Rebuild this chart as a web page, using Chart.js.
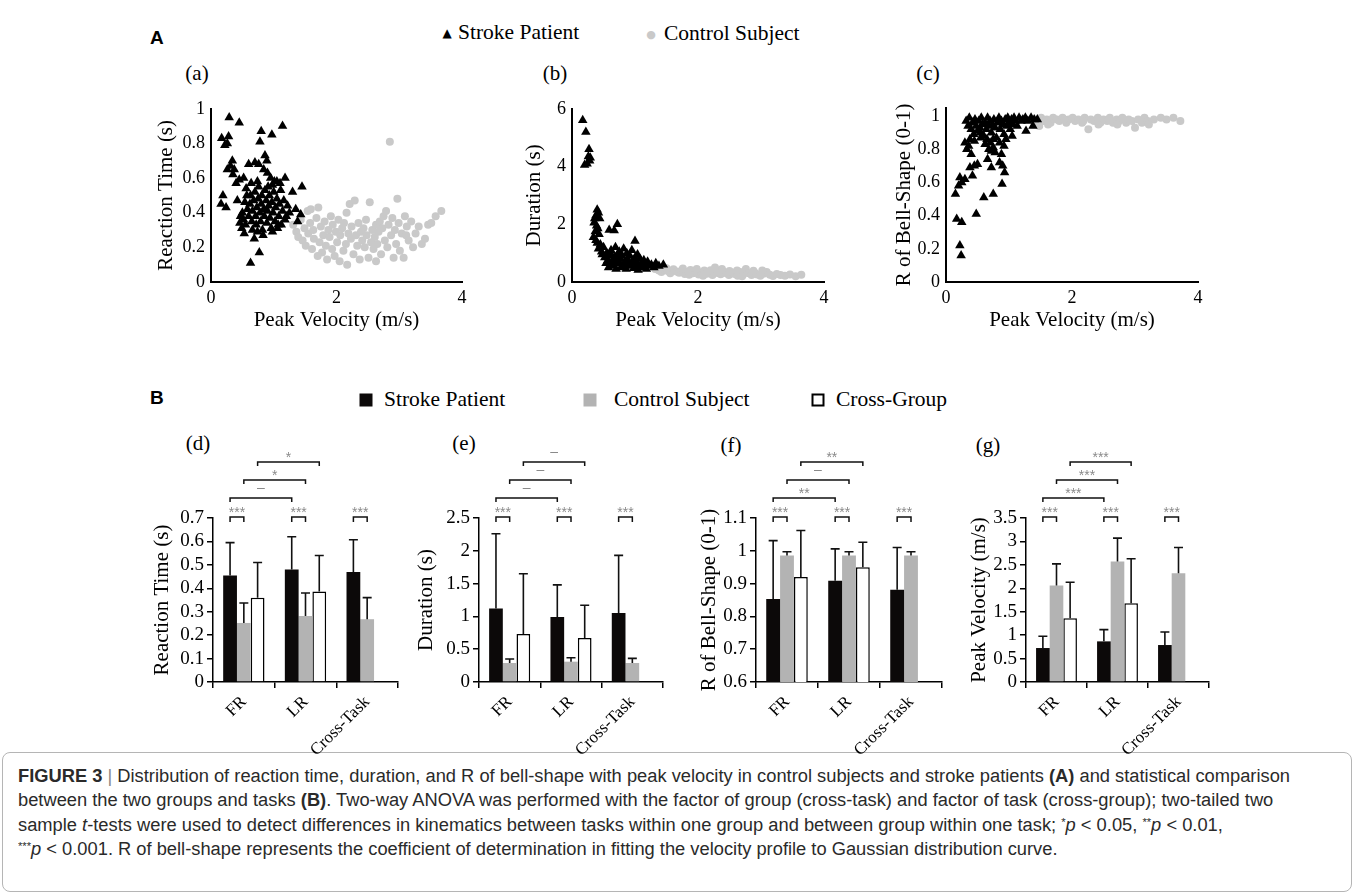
<!DOCTYPE html>
<html lang="en">
<head>
<meta charset="UTF-8">
<title>Figure 3</title>
<script src="https://cdn.jsdelivr.net/npm/chart.js"></script>
<style>
  body { margin: 0; width: 1358px; height: 895px; background: #fff; position: relative; overflow: hidden;
         font-family: "Liberation Serif", "Times New Roman", serif; color: #000; }
  .plot { position: absolute; }
  .t { position: absolute; white-space: nowrap; font-size: 21px; line-height: 1; transform: translate(0, -50%); }
  .c { transform: translate(-50%, -50%); }
  .big { font-family: "Liberation Sans", Arial, sans-serif; font-weight: bold; font-size: 19px; }
  .sq { position: absolute; width: 13px; height: 13px; transform: translate(-50%, -50%); box-sizing: border-box; }
  #capbox { position: absolute; left: 2px; top: 752px; width: 1350px; height: 140px; box-sizing: border-box;
            border: 1px solid #b5b5b5; border-radius: 8px; }
  #caption { position: absolute; left: 18px; top: 764px; transform-origin: 0 0;
             font-family: "Liberation Sans", Arial, sans-serif; font-size: 18px; line-height: 24.3px; color: #2a2a2a; }
  #caption div { width: max-content; white-space: nowrap; }
  #caption sup { font-size: 11px; vertical-align: 5px; line-height: 0; }
</style>
</head>
<body>
  <span class="t big" style="left:150px; top:37px;">A</span>
  <span class="t c" style="left:447px; top:33px; font-family:'DejaVu Sans'; font-size:12px;">&#9650;</span>
  <span class="t" style="left:458px; top:33px; font-size:21.5px;">Stroke Patient</span>
  <span class="t c" style="left:651px; top:34px; font-family:'DejaVu Sans'; font-size:11px; color:#c9c9c9;">&#9679;</span>
  <span class="t" style="left:664px; top:34px; font-size:21.5px;">Control Subject</span>
  <span class="t c" style="left:197px; top:73px;">(a)</span>
  <span class="t c" style="left:555px; top:73px;">(b)</span>
  <span class="t c" style="left:928px; top:73px;">(c)</span>

  <span class="t big" style="left:150px; top:397px;">B</span>
  <div class="sq" style="left:366px; top:400px; background:#0c0909;"></div>
  <span class="t" style="left:384px; top:400px; font-size:21.5px;">Stroke Patient</span>
  <div class="sq" style="left:590px; top:400px; background:#b3b3b3;"></div>
  <span class="t" style="left:614px; top:400px; font-size:21.5px;">Control Subject</span>
  <div class="sq" style="left:818px; top:400px; border:2px solid #000; background:#fff;"></div>
  <span class="t" style="left:836px; top:400px; font-size:21.5px;">Cross-Group</span>
  <span class="t c" style="left:198px; top:443px;">(d)</span>
  <span class="t c" style="left:464px; top:443px;">(e)</span>
  <span class="t c" style="left:731px; top:445px;">(f)</span>
  <span class="t c" style="left:988px; top:445px;">(g)</span>

  <div id="capbox"></div>
  <div id="caption">
    <div id="l1"><b>FIGURE 3</b> <span style="color:#888">|</span> Distribution of reaction time, duration, and R of bell-shape with peak velocity in control subjects and stroke patients <b>(A)</b> and statistical comparison</div>
    <div>between the two groups and tasks <b>(B)</b>. Two-way ANOVA was performed with the factor of group (cross-task) and factor of task (cross-group); two-tailed two</div>
    <div>sample <i>t</i>-tests were used to detect differences in kinematics between tasks within one group and between group within one task; <sup>*</sup><i>p</i> &lt; 0.05, <sup>**</sup><i>p</i> &lt; 0.01,</div>
    <div><sup>***</sup><i>p</i> &lt; 0.001. R of bell-shape represents the coefficient of determination in fitting the velocity profile to Gaussian distribution curve.</div>
  </div>

<script>
    const serif = '"Liberation Serif", "Times New Roman", serif';
    Chart.defaults.font.family = serif;
    Chart.defaults.color = '#000';

    // ---- panel A: [peak velocity (m/s), value] per trial ----
    const strokeRT = [
        [0.29,0.95],[0.45,0.92],[1.14,0.90],[0.80,0.87],[0.97,0.85],[0.17,0.83],[0.28,0.84],[0.78,0.81],[0.22,0.79],[0.26,0.80],
        [0.86,0.73],[0.89,0.70],[0.34,0.70],[0.31,0.67],[0.60,0.68],[0.70,0.69],[0.76,0.68],[0.26,0.65],[0.37,0.65],[0.35,0.62],
        [0.45,0.59],[0.40,0.57],[0.52,0.60],[0.90,0.63],[0.95,0.60],[1.18,0.60],[0.84,0.65],[1.05,0.58],[1.10,0.57],[0.98,0.56],
        [0.19,0.50],[0.16,0.45],[0.24,0.43],[0.42,0.47],[1.30,0.52],[1.45,0.55],[1.35,0.42],[1.43,0.39],[1.38,0.35],[1.20,0.38],
        [0.50,0.40],[0.52,0.36],[0.55,0.33],[0.58,0.42],[0.60,0.38],[0.62,0.45],[0.63,0.50],[0.65,0.35],[0.66,0.41],[0.68,0.47],
        [0.70,0.52],[0.71,0.38],[0.72,0.33],[0.73,0.43],[0.75,0.48],[0.76,0.55],[0.78,0.40],[0.79,0.35],[0.80,0.45],[0.81,0.50],
        [0.82,0.30],[0.84,0.42],[0.85,0.38],[0.86,0.53],[0.88,0.47],[0.89,0.34],[0.90,0.41],[0.92,0.44],[0.93,0.50],[0.94,0.37],
        [0.96,0.31],[0.97,0.46],[0.99,0.40],[1.00,0.52],[1.02,0.35],[1.03,0.43],[1.05,0.48],[1.06,0.31],[1.08,0.38],[1.09,0.45],
        [1.11,0.53],[1.12,0.33],[1.14,0.41],[1.16,0.47],[1.18,0.36],[1.22,0.44],[1.25,0.40],[0.57,0.50],[0.54,0.46],[0.47,0.38],
        [0.53,0.28],[0.66,0.30],[0.74,0.29],[0.98,0.29],[1.07,0.33],[0.63,0.11],[0.77,0.17],[0.69,0.25],[0.83,0.27],[0.56,0.54],
        [0.64,0.57],[0.74,0.58],[0.91,0.55],[1.01,0.58],[0.46,0.34],[0.49,0.31]
    ];
    const controlRT = [
        [1.31,0.33],[1.36,0.29],[1.39,0.26],[1.43,0.36],[1.46,0.24],[1.49,0.31],[1.51,0.21],[1.54,0.41],[1.55,0.28],[1.58,0.34],
        [1.61,0.19],[1.63,0.30],[1.64,0.25],[1.68,0.37],[1.71,0.43],[1.73,0.23],[1.75,0.32],[1.77,0.17],[1.79,0.27],[1.81,0.35],
        [1.83,0.21],[1.85,0.13],[1.87,0.30],[1.89,0.26],[1.91,0.38],[1.93,0.19],[1.94,0.33],[1.97,0.15],[1.99,0.29],[2.01,0.23],
        [2.03,0.36],[2.05,0.12],[2.06,0.27],[2.09,0.31],[2.11,0.18],[2.12,0.34],[2.15,0.22],[2.17,0.10],[2.19,0.28],[2.21,0.45],
        [2.23,0.25],[2.24,0.32],[2.27,0.16],[2.29,0.47],[2.31,0.27],[2.33,0.21],[2.35,0.34],[2.37,0.13],[2.39,0.29],[2.41,0.24],
        [2.43,0.31],[2.45,0.20],[2.47,0.36],[2.48,0.27],[2.51,0.14],[2.53,0.46],[2.55,0.23],[2.57,0.30],[2.59,0.19],[2.61,0.26],
        [2.63,0.33],[2.65,0.22],[2.67,0.29],[2.69,0.35],[2.71,0.16],[2.73,0.31],[2.75,0.38],[2.77,0.24],[2.79,0.41],[2.81,0.20],
        [2.83,0.33],[2.85,0.81],[2.87,0.27],[2.89,0.37],[2.91,0.14],[2.93,0.30],[2.95,0.22],[2.97,0.48],[2.99,0.34],[3.01,0.18],
        [3.04,0.28],[3.07,0.14],[3.09,0.38],[3.12,0.32],[3.15,0.24],[3.19,0.35],[3.22,0.20],[3.26,0.28],[3.31,0.32],[3.36,0.22],
        [3.41,0.25],[3.46,0.33],[3.51,0.34],[3.58,0.38],[3.67,0.41],[1.59,0.42],[2.16,0.40],[2.63,0.12],[1.70,0.15],[3.11,0.27]
    ];
    const strokeDur = [
        [0.17,5.6],[0.22,5.2],[0.27,4.6],[0.26,4.35],[0.28,4.2],[0.20,4.05],[0.24,4.1],[0.29,4.3],
        [0.40,2.5],[0.42,2.4],[0.38,2.3],[0.36,2.2],[0.44,2.2],[0.35,2.05],[0.39,1.95],[0.41,1.85],[0.37,1.75],[0.43,1.65],
        [0.34,1.55],[0.38,1.45],[0.40,1.35],[0.45,1.3],[0.42,1.15],[0.47,1.05],[0.50,1.2],[0.72,2.0],[0.59,1.8],[0.67,1.78],[1.00,1.42],
        [0.48,0.95],[0.52,0.85],[0.55,1.0],[0.57,0.75],[0.60,0.9],[0.62,1.1],[0.64,0.7],[0.65,0.55],[0.67,0.85],[0.69,1.2],
        [0.70,0.45],[0.72,0.95],[0.74,0.65],[0.75,1.05],[0.77,0.8],[0.79,0.55],[0.80,0.9],[0.82,1.15],[0.84,0.7],[0.85,0.6],
        [0.87,1.0],[0.88,0.8],[0.90,0.65],[0.92,0.9],[0.94,0.55],[0.95,1.1],[0.97,0.75],[0.99,0.6],[1.00,0.85],[1.02,0.7],
        [1.04,0.95],[1.06,0.55],[1.08,0.8],[1.10,0.65],[1.12,0.5],[1.14,0.75],[1.16,0.6],[1.18,0.45],[1.20,0.7],[1.23,0.55],
        [1.26,0.6],[1.30,0.5],[1.33,0.65],[1.38,0.55],[1.45,0.6],[0.58,0.5],[0.66,0.65],[0.78,0.5],[0.86,0.45],[0.98,0.48],
        [1.05,0.42],[0.62,0.95],[0.54,0.65],[0.73,0.75]
    ];
    const controlDur = [
        [1.32,0.45],[1.38,0.40],[1.42,0.35],[1.47,0.42],[1.52,0.38],[1.56,0.30],[1.61,0.44],[1.66,0.36],[1.70,0.32],[1.74,0.40],
        [1.79,0.28],[1.83,0.35],[1.88,0.42],[1.92,0.30],[1.96,0.37],[2.01,0.26],[2.05,0.33],[2.10,0.40],[2.14,0.29],[2.19,0.35],
        [2.23,0.24],[2.27,0.50],[2.31,0.31],[2.36,0.27],[2.40,0.36],[2.45,0.30],[2.49,0.24],[2.54,0.33],[2.58,0.28],[2.63,0.22],
        [2.67,0.35],[2.72,0.27],[2.76,0.45],[2.81,0.30],[2.85,0.24],[2.90,0.32],[2.94,0.26],[2.99,0.22],[3.04,0.29],[3.09,0.35],
        [3.14,0.25],[3.19,0.21],[3.25,0.28],[3.31,0.24],[3.38,0.22],[3.46,0.26],[3.55,0.20],[3.64,0.25],[1.50,0.48],[1.76,0.47],
        [2.08,0.22],[2.38,0.45],[2.62,0.40],[2.88,0.39],[3.02,0.40],[1.98,0.45],[2.20,0.41],[1.86,0.25],[2.50,0.38],[2.70,0.20]
    ];
    const strokeBell = [
        [0.32,0.97],[0.35,0.94],[0.37,0.99],[0.40,0.92],[0.42,0.96],[0.44,0.89],[0.46,0.98],[0.48,0.94],[0.50,0.91],[0.52,0.97],
        [0.54,0.93],[0.56,0.99],[0.58,0.95],[0.60,0.88],[0.62,0.96],[0.64,0.92],[0.66,0.99],[0.68,0.94],[0.70,0.97],[0.72,0.90],
        [0.74,0.95],[0.76,0.98],[0.78,0.93],[0.80,0.87],[0.82,0.96],[0.84,0.99],[0.86,0.92],[0.88,0.97],[0.90,0.95],[0.92,0.89],
        [0.94,0.98],[0.96,0.94],[0.98,0.99],[1.00,0.96],[1.02,0.92],[1.04,0.98],[1.06,0.95],[1.08,0.99],[1.10,0.97],[1.13,0.94],
        [1.16,0.99],[1.19,0.97],[1.22,0.98],[1.26,0.99],[1.30,0.97],[1.35,0.99],[1.40,0.98],[1.45,0.98],[0.38,0.86],[0.45,0.85],
        [0.55,0.87],[0.65,0.86],[0.70,0.84],[0.75,0.86],[0.85,0.84],[0.95,0.86],[1.05,0.88],[0.30,0.84],[0.33,0.80],[0.40,0.77],
        [0.36,0.82],[0.68,0.80],[0.72,0.79],[0.75,0.81],[0.78,0.78],[0.88,0.77],[0.92,0.82],[0.85,0.72],[0.90,0.70],[0.93,0.66],
        [0.72,0.69],[0.66,0.74],[0.50,0.71],[0.45,0.70],[0.38,0.69],[0.30,0.62],[0.22,0.63],[0.20,0.58],[0.25,0.60],[0.42,0.64],
        [0.89,0.59],[0.75,0.53],[0.60,0.51],[0.48,0.41],[0.15,0.53],[0.17,0.38],[0.25,0.36],[0.22,0.22],[0.24,0.16],[1.27,0.91],
        [1.38,0.94],[0.55,0.90],[0.62,0.83]
    ];
    const controlBell = [
        [1.40,0.98],[1.45,0.96],[1.51,0.99],[1.55,0.97],[1.60,0.98],[1.66,0.96],[1.70,0.99],[1.76,0.98],[1.80,0.97],[1.85,0.99],
        [1.91,0.96],[1.95,0.98],[2.01,0.99],[2.05,0.97],[2.10,0.98],[2.16,0.96],[2.20,0.99],[2.26,0.92],[2.30,0.98],[2.35,0.97],
        [2.41,0.99],[2.45,0.96],[2.50,0.98],[2.56,0.97],[2.60,0.99],[2.65,0.96],[2.71,0.98],[2.75,0.97],[2.80,0.99],[2.86,0.96],
        [2.90,0.98],[2.95,0.97],[3.00,0.93],[3.05,0.98],[3.11,0.96],[3.15,0.99],[3.20,0.97],[3.30,0.98],[3.41,0.99],[3.50,0.98],
        [3.61,0.99],[3.72,0.97],[1.48,0.94],[1.62,0.95],[2.42,0.95],[2.72,0.95],[3.22,0.95],[1.88,0.98],[2.18,0.97],[2.58,0.98]
    ];

    // ---- panel B: group means, SD and significance ----
    const tasks = ['FR', 'LR', 'Cross-Task'];
    const withinSig = ['***', '***', '***'];

    const rtStroke = [0.455, 0.48, 0.47];
    const rtStrokeSD = [0.14, 0.14, 0.137];
    const rtControl = [0.252, 0.282, 0.268];
    const rtControlSD = [0.085, 0.098, 0.092];
    const rtCross = [0.36, 0.386, null];
    const rtCrossSD = [0.15, 0.154, null];
    const rtSig = ['\u2013', '*', '*'];

    const durStroke = [1.12, 0.99, 1.05];
    const durStrokeSD = [1.14, 0.49, 0.88];
    const durControl = [0.29, 0.31, 0.29];
    const durControlSD = [0.06, 0.06, 0.07];
    const durCross = [0.73, 0.67, null];
    const durCrossSD = [0.92, 0.50, null];
    const durSig = ['\u2013', '\u2013', '\u2013'];

    const bellStroke = [0.853, 0.909, 0.881];
    const bellStrokeSD = [0.178, 0.097, 0.129];
    const bellControl = [0.986, 0.986, 0.986];
    const bellControlSD = [0.011, 0.011, 0.011];
    const bellCross = [0.92, 0.95, null];
    const bellCrossSD = [0.142, 0.076, null];
    const bellSig = ['**', '\u2013', '**'];

    const pvStroke = [0.725, 0.867, 0.789];
    const pvStrokeSD = [0.25, 0.25, 0.277];
    const pvControl = [2.06, 2.57, 2.32];
    const pvControlSD = [0.46, 0.50, 0.55];
    const pvCross = [1.36, 1.68, null];
    const pvCrossSD = [0.77, 0.95, null];
    const pvSig = ['***', '***', '***'];

    const fmt = v => String(+v.toFixed(2));

    // upward SD whiskers with a cap
    const errorBars = {
        id: 'errorBars',
        afterDatasetsDraw(chart) {
            const ctx = chart.ctx, ys = chart.scales.y;
            chart.data.datasets.forEach((ds, i) => {
                chart.getDatasetMeta(i).data.forEach((bar, j) => {
                    if (ds.data[j] == null || ds.sd[j] == null) return;
                    const yTop = ys.getPixelForValue(ds.data[j] + ds.sd[j]);
                    ctx.save();
                    ctx.strokeStyle = '#111';
                    ctx.lineWidth = 1.6;
                    ctx.beginPath();
                    ctx.moveTo(bar.x, bar.y);
                    ctx.lineTo(bar.x, yTop);
                    ctx.moveTo(bar.x - 4.5, yTop);
                    ctx.lineTo(bar.x + 4.5, yTop);
                    ctx.stroke();
                    ctx.restore();
                });
            });
        }
    };

    // significance brackets above the plot area
    const brackets = {
        id: 'brackets',
        afterDraw(chart, args, opts) {
            const ctx = chart.ctx, top = chart.chartArea.top;
            const cx = (d, j) => chart.getDatasetMeta(d).data[j].x;
            function br(x1, x2, y, leg, label) {
                ctx.beginPath();
                ctx.moveTo(x1, y + leg);
                ctx.lineTo(x1, y);
                ctx.lineTo(x2, y);
                ctx.lineTo(x2, y + leg);
                ctx.stroke();
                ctx.fillText(label, (x1 + x2) / 2, label === '\u2013' ? y - 3 : y + 3);
            }
            ctx.save();
            ctx.strokeStyle = '#111';
            ctx.lineWidth = 1.5;
            ctx.fillStyle = '#8a8a8a';
            ctx.font = '14px "Liberation Sans", Arial, sans-serif';
            ctx.textAlign = 'center';
            ctx.textBaseline = 'bottom';
            opts.within.forEach((lab, j) => br(cx(0, j), cx(1, j), top - 1, 5, lab));
            opts.across.forEach((lab, k) => br(cx(k, 0), cx(k, 1), top - 20 - 18 * k, 4, lab));
            ctx.restore();
        }
    };

    function place(box, config) {
        const div = document.createElement('div');
        div.className = 'plot';
        div.style.left = (box.x - box.yw) + 'px';
        div.style.top = (box.y - box.pt) + 'px';
        div.style.width = (box.yw + box.w + box.pr) + 'px';
        div.style.height = (box.pt + box.h + box.xh) + 'px';
        const cv = document.createElement('canvas');
        div.appendChild(cv);
        document.body.appendChild(div);
        config.options.layout = { padding: { top: box.pt, right: box.pr, left: 0, bottom: 0 } };
        config.options.scales.x.afterFit = s => { s.height = box.xh; };
        config.options.scales.y.afterFit = s => { s.width = box.yw; };
        return new Chart(cv, config);
    }

    function scatter(box, stroke, control, yMax, yStep, yLast, yTitle) {
        return place(box, {
            type: 'scatter',
            data: {
                datasets: [
                    { label: 'Stroke Patient', data: stroke.map(p => ({ x: p[0], y: p[1] })),
                      pointStyle: 'triangle', pointRadius: 5.5, backgroundColor: '#000', borderWidth: 0 },
                    { label: 'Control Subject', data: control.map(p => ({ x: p[0], y: p[1] })),
                      pointStyle: 'circle', pointRadius: 4, backgroundColor: '#c9c9c9', borderWidth: 0 }
                ]
            },
            options: {
                animation: false, responsive: true, maintainAspectRatio: false, events: [],
                plugins: { legend: { display: false }, tooltip: { enabled: false } },
                scales: {
                    x: {
                        type: 'linear', min: 0, max: 4,
                        ticks: { stepSize: 2, font: { size: 18 }, padding: 5, callback: fmt },
                        grid: { display: false, drawTicks: false },
                        border: { color: '#000', width: 2 },
                        title: { display: true, text: 'Peak Velocity (m/s)', font: { size: 21 }, padding: 0 }
                    },
                    y: {
                        min: 0, max: yMax,
                        ticks: { stepSize: yStep, font: { size: 18 }, padding: 6, autoSkip: false, callback: fmt },
                        afterBuildTicks: s => {
                            const t = [];
                            for (let v = 0; v <= yLast + 1e-9; v += yStep) t.push({ value: +v.toFixed(2) });
                            s.ticks = t;
                        },
                        grid: { display: false, drawTicks: false },
                        border: { color: '#000', width: 2 },
                        title: { display: true, text: yTitle, font: { size: 21 }, padding: 0 }
                    }
                }
            }
        });
    }

    function bars(box, s, sSD, c, cSD, x, xSD, yMin, yMax, yStep, yTitle, sig) {
        return place(box, {
            type: 'bar',
            data: {
                labels: tasks,
                datasets: [
                    { label: 'Stroke Patient', data: s, sd: sSD, backgroundColor: '#0c0909', borderWidth: 0 },
                    { label: 'Control Subject', data: c, sd: cSD, backgroundColor: '#b3b3b3', borderWidth: 0 },
                    { label: 'Cross-Group', data: x, sd: xSD, backgroundColor: '#fff', borderColor: '#000',
                      borderWidth: 1.5, borderSkipped: 'bottom' }
                ]
            },
            options: {
                animation: false, responsive: true, maintainAspectRatio: false, events: [],
                categoryPercentage: 0.67, barPercentage: 1,
                plugins: { legend: { display: false }, tooltip: { enabled: false },
                           brackets: { within: withinSig, across: sig } },
                scales: {
                    x: {
                        ticks: { font: { size: 17 }, minRotation: 45, maxRotation: 45, autoSkip: false, padding: 4 },
                        grid: { display: true, drawOnChartArea: false, drawTicks: true, tickLength: 6, color: '#000', lineWidth: 1.5 },
                        border: { color: '#000', width: 1.5 }
                    },
                    y: {
                        min: yMin, max: yMax,
                        ticks: { stepSize: yStep, font: { size: 19 }, padding: 3, autoSkip: false, callback: fmt },
                        grid: { display: true, drawOnChartArea: false, drawTicks: true, tickLength: 6, color: '#000', lineWidth: 1.5 },
                        border: { color: '#000', width: 1.5 },
                        title: { display: true, text: yTitle, font: { size: 21 }, padding: 0 }
                    }
                }
            },
            plugins: [errorBars, brackets]
        });
    }

    // panel A
    scatter({ x: 211, y: 106, w: 251, h: 176, yw: 57, xh: 51, pt: 14, pr: 14 }, strokeRT, controlRT, 1, 0.2, 1, 'Reaction Time (s)');
    scatter({ x: 572, y: 106, w: 252, h: 176, yw: 50, xh: 51, pt: 14, pr: 14 }, strokeDur, controlDur, 6, 2, 6, 'Duration (s)');
    scatter({ x: 946, y: 105, w: 252, h: 177, yw: 54, xh: 51, pt: 14, pr: 14 }, strokeBell, controlBell, 1.05, 0.2, 1, 'R of Bell-Shape (0-1)');

    // panel B
    bars({ x: 213, y: 518, w: 185, h: 164, yw: 63, xh: 82, pt: 72, pr: 12 },
        rtStroke, rtStrokeSD, rtControl, rtControlSD, rtCross, rtCrossSD, 0, 0.7, 0.1, 'Reaction Time (s)', rtSig);
    bars({ x: 479, y: 518, w: 184, h: 164, yw: 65, xh: 82, pt: 72, pr: 12 },
        durStroke, durStrokeSD, durControl, durControlSD, durCross, durCrossSD, 0, 2.5, 0.5, 'Duration (s)', durSig);
    bars({ x: 756, y: 518, w: 186, h: 164, yw: 59, xh: 82, pt: 72, pr: 12 },
        bellStroke, bellStrokeSD, bellControl, bellControlSD, bellCross, bellCrossSD, 0.6, 1.1, 0.1, 'R of Bell-Shape (0-1)', bellSig);
    bars({ x: 1026, y: 518, w: 183, h: 164, yw: 59, xh: 82, pt: 72, pr: 12 },
        pvStroke, pvStrokeSD, pvControl, pvControlSD, pvCross, pvCrossSD, 0, 3.5, 0.5, 'Peak Velocity (m/s)', pvSig);

    // fit caption width to the reference line length
    const cap = document.getElementById('caption');
    const w1 = document.getElementById('l1').getBoundingClientRect().width;
    cap.style.transform = 'scaleX(' + (1272 / w1) + ')';
</script>
</body>
</html>
